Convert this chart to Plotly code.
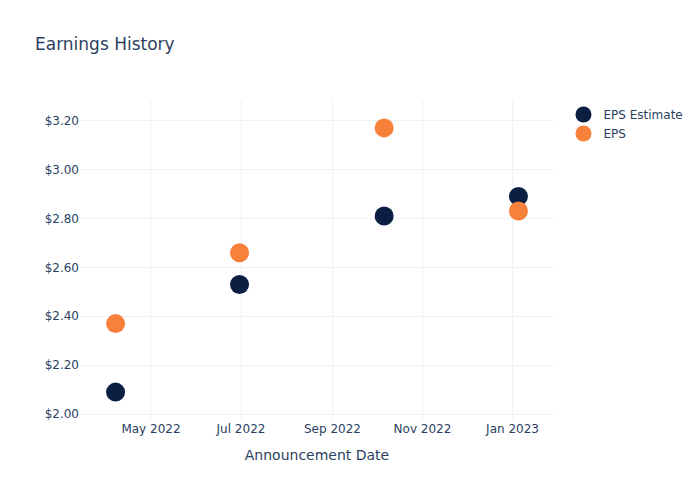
import plotly.graph_objects as go

dates = ["2022-04-07", "2022-06-30", "2022-10-06", "2023-01-05"]
eps_estimate = [2.09, 2.53, 2.81, 2.89]
eps_actual = [2.37, 2.66, 3.17, 2.83]

fig = go.Figure()
fig.add_trace(go.Scatter(x=dates, y=eps_estimate, mode="markers", name="EPS Estimate",
                         marker=dict(color="#0b1f42", size=19)))
fig.add_trace(go.Scatter(x=dates, y=eps_actual, mode="markers", name="EPS",
                         marker=dict(color="#f7803a", size=19)))

fig.update_layout(
    template="plotly_white",
    width=700, height=500,
    font=dict(family="DejaVu Sans", color="#2a3f5f"),
    title=dict(text="Earnings History", x=0.05, font=dict(size=17)),
    margin=dict(l=80, r=146, t=100, b=80),
    xaxis=dict(title=dict(text="Announcement Date"), tickformat="%b %Y", dtick="M2",
               showline=False, zeroline=False, gridcolor="#eef1f7"),
    yaxis=dict(tickprefix="$", tickformat=".2f", dtick=0.2, zeroline=False,
               gridcolor="#eef1f7"),
    legend=dict(font=dict(size=12)),
)
fig.write_html("out.html")
